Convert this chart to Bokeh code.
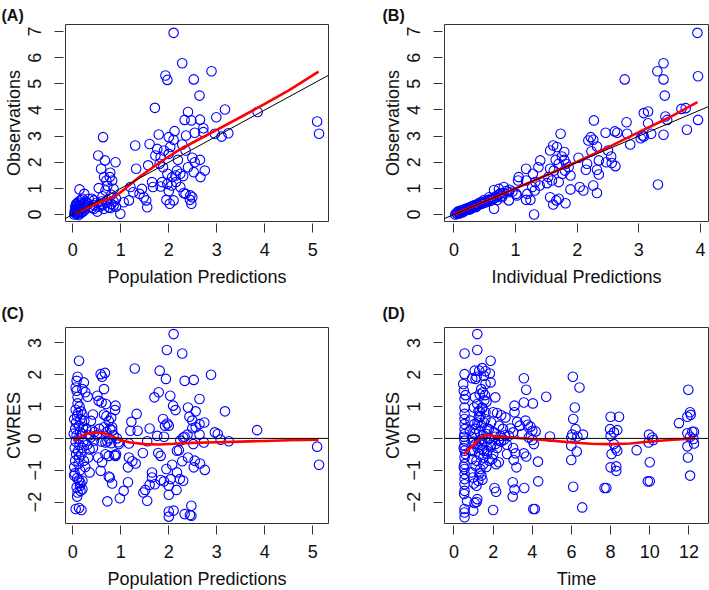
import math
from bokeh.plotting import figure
from bokeh.layouts import row, column
from bokeh.models import FixedTicker, Slope, Span, Title
from bokeh.embed import file_html
from bokeh.resources import INLINE

FONT = "Liberation Sans"

# ---------------- data ----------------
# Panel A: population predictions vs observations
a_points = [
    (2.10, 6.95), (2.28, 5.79), (1.93, 5.32), (1.97, 5.15), (2.89, 5.48), (2.52, 5.17), (2.64, 4.55),
    (1.71, 4.08), (3.17, 4.02), (3.85, 3.92), (2.99, 3.72), (2.40, 3.92), (2.33, 3.62), (2.47, 3.60),
    (2.65, 3.63), (5.09, 3.56), (5.13, 3.09), (3.24, 3.11), (3.10, 2.98), (2.96, 3.09), (2.72, 3.30),
    (2.72, 3.15), (2.54, 3.13), (2.36, 3.02), (2.12, 3.19), (1.79, 3.06), (0.63, 2.96), (2.00, 2.96),
    (2.10, 2.86), (1.30, 2.64), (1.60, 2.70), (2.28, 2.68), (2.35, 2.45), (2.03, 2.58), (1.90, 2.45),
    (1.76, 2.51), (2.00, 2.32), (1.83, 2.19), (1.72, 2.26), (2.49, 2.17), (2.65, 2.09), (2.54, 2.00),
    (2.19, 2.09), (0.53, 2.26), (0.67, 2.07), (0.89, 2.00), (1.32, 1.75), (1.57, 1.88), (1.81, 1.94),
    (1.88, 1.81), (2.40, 1.81), (0.59, 1.75), (2.75, 1.68), (2.52, 1.62), (2.17, 1.68), (2.24, 1.56),
    (2.14, 1.49), (2.30, 1.47), (1.97, 1.56), (2.07, 1.43), (2.66, 1.43), (0.65, 1.43), (0.77, 1.43),
    (0.70, 1.30), (0.82, 1.30), (0.78, 1.60), (1.65, 1.24), (1.86, 1.24), (1.97, 1.17), (2.15, 1.24),
    (2.06, 1.11), (1.83, 1.07), (2.24, 1.05), (1.67, 1.05), (0.54, 1.01), (0.68, 0.92), (0.85, 0.98),
    (1.20, 1.05), (1.26, 0.85), (1.39, 0.79), (1.44, 0.98), (2.00, 0.89), (2.31, 0.82), (0.14, 0.96),
    (2.35, 0.79), (2.45, 0.73), (2.49, 0.66), (2.44, 0.56), (2.47, 0.41), (1.95, 0.56), (2.02, 0.41),
    (2.10, 0.54), (1.53, 0.54), (1.55, 0.28), (1.06, 0.47), (1.17, 0.54), (0.99, 0.03), (1.48, 0.66),
    (0.24, 0.79), (0.33, 0.60), (0.44, 0.54), (0.58, 0.41), (0.75, 0.28), (0.85, 0.34), (0.44, 0.22),
    (0.65, 0.22), (0.51, 0.11), (0.72, 1.10), (0.80, 0.75), (0.90, 0.60), (0.62, 0.70),
    (0.03, 0.00), (0.05, 0.05), (0.06, 0.10), (0.08, 0.15), (0.10, 0.20), (0.12, 0.30), (0.09, 0.25),
    (0.15, 0.35), (0.07, 0.40), (0.10, 0.45), (0.13, 0.50), (0.17, 0.55), (0.20, 0.60), (0.05, 0.30),
    (0.11, 0.08), (0.14, 0.12), (0.18, 0.20), (0.20, 0.30), (0.22, 0.40), (0.25, 0.25), (0.28, 0.35),
    (0.30, 0.45), (0.08, 0.02), (0.12, -0.02), (0.16, 0.05), (0.20, 0.10), (0.24, 0.15), (0.27, 0.50),
    (0.33, 0.40), (0.36, 0.30), (0.40, 0.25), (0.40, 0.60), (0.45, 0.35), (0.50, 0.45), (0.55, 0.30),
    (0.60, 0.50), (0.62, 0.35), (0.70, 0.45), (0.72, 0.55), (0.78, 0.25), (0.80, 0.40), (0.85, 0.50),
    (0.90, 0.30), (0.06, 0.20), (0.09, 0.35), (0.13, 0.22), (0.16, 0.42), (0.04, 0.12), (0.18, 0.08),
]
a_loess_x = [0.05, 0.3, 0.5, 0.75, 0.9, 1.1, 1.4, 1.8, 2.2, 2.6, 3.0, 3.5, 4.0, 4.5, 5.12]
a_loess_y = [0.05, 0.26, 0.42, 0.60, 0.72, 1.00, 1.45, 1.98, 2.45, 2.85, 3.24, 3.73, 4.23, 4.75, 5.47]

# Panel B: individual predictions vs observations
b_points = [
    (3.95, 6.95), (3.96, 5.29), (3.30, 5.48), (2.77, 5.17), (3.40, 5.79), (3.40, 5.17), (3.42, 4.55),
    (3.96, 3.62), (3.78, 3.24), (3.69, 4.04), (3.76, 4.07), (3.15, 3.94), (3.08, 3.88), (3.43, 3.75),
    (3.46, 3.62), (3.15, 3.49), (2.80, 3.53), (3.20, 3.09), (3.40, 3.05), (3.06, 3.02), (3.03, 2.92),
    (2.86, 2.68), (3.08, 2.98), (2.27, 3.60), (2.61, 3.18), (2.65, 3.13), (2.46, 3.13), (2.81, 3.09),
    (3.31, 1.15), (2.22, 2.96), (2.18, 2.83), (2.26, 2.86), (2.32, 2.60), (2.23, 2.42), (2.50, 2.45),
    (2.55, 2.22), (2.47, 2.00), (2.62, 1.85), (2.56, 1.97), (2.35, 2.07), (2.16, 1.94), (2.14, 1.71),
    (2.32, 1.71), (2.35, 1.53), (2.26, 1.11), (2.32, 0.82), (2.10, 0.92), (2.04, 1.05), (2.02, 2.17),
    (1.86, 1.81), (1.89, 1.49), (1.80, 1.68), (1.82, 1.94), (1.73, 3.09), (1.61, 2.64), (1.67, 2.58),
    (1.56, 2.45), (1.79, 2.39), (1.75, 2.22), (1.79, 2.09), (1.65, 2.09), (1.70, 1.94), (1.56, 1.75),
    (1.62, 1.68), (1.76, 1.56), (1.53, 1.43), (1.59, 1.30), (1.70, 1.24), (1.51, 1.20), (1.40, 2.07),
    (1.37, 1.81), (1.17, 1.75), (1.28, 1.56), (1.17, 1.30), (1.32, 1.24), (1.39, 1.11), (1.27, 1.05),
    (1.31, 0.92), (1.19, 0.79), (1.24, 0.56), (1.17, 0.56), (1.30, 0.00), (1.56, 0.66), (1.61, 0.38),
    (1.66, 0.54), (1.70, 0.60), (1.81, 0.43), (1.89, 0.96), (1.05, 1.43), (1.04, 1.30), (1.01, 0.79),
    (1.02, 0.73), (0.89, 0.85), (0.81, 1.05), (0.73, 0.98), (0.65, 0.94), (0.69, 0.66), (0.65, 0.22),
    (0.89, 0.54), (0.78, 0.66), (0.57, 0.66), (0.48, 0.54), (0.43, 0.47),
    (0.02, 0.00), (0.05, 0.03), (0.08, 0.07), (0.10, 0.12), (0.12, 0.10), (0.15, 0.15), (0.18, 0.20),
    (0.20, 0.17), (0.22, 0.25), (0.25, 0.22), (0.28, 0.30), (0.30, 0.27), (0.33, 0.35), (0.35, 0.32),
    (0.38, 0.40), (0.40, 0.37), (0.42, 0.45), (0.45, 0.42), (0.50, 0.50), (0.52, 0.47), (0.55, 0.55),
    (0.60, 0.60), (0.62, 0.55), (0.06, 0.09), (0.09, 0.04), (0.14, 0.09), (0.17, 0.13), (0.24, 0.18),
    (0.27, 0.21), (0.32, 0.28), (0.36, 0.29), (0.04, 0.06), (0.07, 0.12), (0.11, 0.15), (0.16, 0.19),
    (0.21, 0.23), (0.26, 0.28), (0.31, 0.33), (0.37, 0.36), (0.44, 0.40), (0.48, 0.44), (0.58, 0.52),
    (0.65, 0.62), (0.68, 0.70), (0.72, 0.75), (0.75, 0.80), (0.80, 0.82), (0.85, 0.90), (0.70, 0.55),
    (0.90, 0.95), (0.95, 0.88), (0.78, 0.72),
]
b_loess_x = [0.0, 0.5, 1.0, 1.5, 2.0, 2.5, 3.0, 3.5, 3.95]
b_loess_y = [0.0, 0.5, 1.0, 1.5, 2.02, 2.57, 3.15, 3.72, 4.30]

# Panel C: population predictions vs CWRES
c_points = [
    (2.10, 3.28), (1.96, 2.78), (2.28, 2.67), (0.13, 2.44), (1.29, 2.20), (1.81, 2.13), (0.58, 2.02),
    (0.67, 2.06), (0.61, 1.94), (2.88, 2.00), (1.94, 1.87), (2.33, 1.81), (2.52, 1.84), (0.10, 1.94),
    (0.08, 1.81), (0.06, 1.60), (0.23, 1.76), (0.20, 1.55), (0.26, 1.45), (0.31, 1.31), (0.65, 1.55),
    (1.79, 1.45), (2.03, 1.34), (1.70, 1.29), (0.51, 1.34), (0.54, 1.18), (0.60, 1.13), (0.69, 1.08),
    (0.89, 1.03), (0.88, 0.89), (2.64, 1.24), (2.09, 1.03), (2.14, 0.89), (2.40, 0.97), (2.56, 0.85),
    (3.17, 0.85), (1.33, 0.77), (2.43, 0.68), (2.49, 0.56), (1.22, 0.52), (1.88, 0.61), (1.97, 0.47),
    (2.00, 0.40), (1.92, 0.40), (2.64, 0.45), (2.74, 0.50), (2.56, 0.35), (2.49, 0.32), (1.60, 0.31),
    (1.35, 0.24), (1.20, 0.24), (3.84, 0.26), (2.96, 0.19), (3.02, 0.14), (1.76, 0.08), (1.90, 0.05),
    (2.30, 0.03), (2.39, 0.12), (2.33, 0.05), (2.64, 0.12), (0.37, 0.03), (0.44, -0.07), (3.08, -0.04),
    (3.25, -0.09), (2.73, -0.13), (2.51, -0.18), (2.24, -0.07), (1.55, -0.09), (1.17, -0.16),
    (0.96, -0.18), (5.09, -0.26), (2.17, -0.39), (2.21, -0.37), (1.78, -0.46), (1.83, -0.55),
    (1.46, -0.46), (0.42, -0.30), (0.75, -0.55), (0.89, -0.55), (0.53, -0.60), (1.17, -0.60),
    (1.24, -0.72), (1.31, -0.79), (0.61, -0.75), (2.40, -0.60), (2.54, -0.70), (2.65, -0.79),
    (2.28, -0.72), (2.07, -0.83), (5.13, -0.83), (2.52, -0.91), (2.75, -0.99), (1.95, -0.96),
    (1.15, -0.91), (0.58, -1.02), (0.35, -1.07), (1.65, -1.07), (1.65, -1.23), (2.17, -1.07),
    (2.23, -1.28), (2.04, -1.28), (2.30, -1.33), (1.83, -1.31), (1.90, -1.35), (1.71, -1.44),
    (1.60, -1.46), (0.77, -1.23), (0.82, -1.42), (1.15, -1.38), (1.06, -1.65), (1.51, -1.62),
    (1.47, -1.70), (2.16, -1.62), (2.00, -1.49), (2.00, -1.77), (1.55, -1.96), (0.98, -1.88),
    (0.72, -1.98), (2.47, -2.12), (2.00, -2.30), (2.10, -2.27), (2.00, -2.46), (2.33, -2.38),
    (2.44, -2.41), (2.47, -2.43), (0.06, -2.22), (0.13, -2.19), (0.18, -2.25), (0.15, -1.49),
    (0.08, -1.54), (0.16, -1.65), (0.09, -1.83), (0.13, -1.31), (0.20, -1.33), (0.03, -1.17),
    (0.03, -0.90), (0.05, -0.70), (0.07, -0.50), (0.04, -0.30), (0.06, -0.10), (0.08, 0.10),
    (0.05, 0.30), (0.07, 0.50), (0.09, 0.70), (0.06, 0.90), (0.10, 1.10), (0.12, -0.80), (0.13, -0.60),
    (0.11, -0.40), (0.14, -0.20), (0.12, 0.00), (0.15, 0.20), (0.13, 0.40), (0.16, 0.60), (0.11, 0.80),
    (0.14, 1.00), (0.10, 1.30), (0.08, 1.50), (0.18, -0.50), (0.20, -0.30), (0.22, -0.10), (0.19, 0.15),
    (0.21, 0.35), (0.24, 0.55), (0.20, 0.75), (0.23, -0.70), (0.26, -0.90), (0.28, 0.30), (0.30, -0.20),
    (0.17, 0.85), (0.03, 0.60), (0.04, -1.10), (0.09, -1.25), (0.15, -1.00), (0.02, 0.15), (0.16, -1.40),
    (0.20, -1.60), (0.10, -1.70), (0.35, 0.10), (0.40, 0.25), (0.45, 0.20), (0.50, 0.10), (0.55, 0.30),
    (0.60, -0.10), (0.65, 0.35), (0.70, 0.20), (0.72, -0.10), (0.75, 0.00), (0.78, 0.30), (0.80, -0.15),
    (0.82, 0.25), (0.85, 0.10), (0.65, 0.75), (0.70, 0.70), (0.75, 0.55), (0.80, 0.65), (0.82, 0.35),
    (0.68, -0.50), (0.42, 0.75), (0.38, 0.55), (0.32, -0.60), (0.35, -0.35), (0.90, -0.50), (0.92, 0.00),
    (0.95, -0.12), (0.75, -1.20), (0.87, -0.52), (0.68, -0.13),
]
c_loess_x = [0.02, 0.15, 0.3, 0.47, 0.65, 0.8, 1.0, 1.2, 1.5, 1.8, 2.1, 2.5, 3.0, 3.5, 4.0, 4.5, 5.12]
c_loess_y = [-0.10, 0.05, 0.15, 0.19, 0.16, 0.08, -0.06, -0.13, -0.18, -0.19, -0.17, -0.14, -0.12,
             -0.10, -0.08, -0.06, -0.04]

# Panel D: time vs CWRES
d_points = [
    (1.19, 3.28), (1.19, 2.78), (0.54, 2.67), (0.54, 2.02), (1.87, 2.44), (1.44, 2.21), (1.29, 2.13),
    (1.06, 2.13), (1.61, 2.11), (1.83, 2.04), (1.53, 1.97), (1.15, 1.94), (0.93, 1.89), (1.10, 1.87),
    (1.87, 1.76), (1.61, 1.71), (1.39, 1.55), (1.48, 1.45), (1.58, 1.36), (1.31, 1.39), (2.11, 1.29),
    (1.66, 1.15), (0.59, 1.36), (0.54, 1.24), (1.07, 1.29), (1.19, 1.08), (1.02, 0.97), (1.44, 0.97),
    (1.31, 0.87), (1.61, 0.82), (2.00, 0.82), (2.20, 0.80), (2.41, 0.73), (2.63, 0.66), (3.09, 1.03),
    (3.09, 0.82), (3.57, 1.89), (3.69, 1.53), (3.57, 1.13), (4.03, 1.10), (4.71, 1.31), (4.90, 0.06),
    (3.23, 0.52), (3.36, 0.40), (3.65, 0.56), (3.77, 0.43), (3.91, 0.37), (4.00, 0.24), (4.17, 0.22),
    (2.88, 0.31), (3.02, 0.19), (2.80, 0.08), (2.55, -0.04), (3.48, 0.14), (3.82, 0.03), (4.00, -0.05),
    (4.08, -0.18), (3.02, -0.30), (3.14, -0.47), (3.57, -0.47), (3.69, -0.57), (2.71, -0.49),
    (3.05, -0.68), (3.19, -0.91), (4.29, -0.73), (3.00, -1.38), (3.09, -1.61), (3.00, -1.83),
    (3.59, -1.56), (4.30, -1.35), (4.05, -2.22), (4.13, -2.22), (2.07, -1.56), (2.15, -1.68),
    (2.00, -2.25), (2.15, -0.81), (2.29, -0.75), (1.95, -0.65), (1.69, -0.49), (1.53, -0.39),
    (1.87, -0.28), (2.12, -0.18), (2.29, -0.07), (2.38, 0.08), (2.04, 0.19), (1.78, 0.29), (1.53, 0.50),
    (1.66, 0.14), (1.44, -0.02), (1.44, -0.34), (1.49, -0.81), (1.35, -0.96), (1.40, -1.17),
    (1.24, -1.33), (1.15, -1.49), (1.19, -1.91), (1.05, -2.03), (0.98, -2.27), (1.15, -2.00),
    (0.67, -1.98), (0.88, -1.07), (0.97, -1.23), (1.02, -1.42), (1.10, -0.86), (0.93, -0.65),
    (0.59, -0.49), (0.85, -0.39), (1.10, -0.18), (1.29, -0.07), (0.93, 0.03), (0.81, 0.24), (1.05, 0.45),
    (1.27, 0.66), (0.84, 0.56),
    (0.54, 0.97), (0.54, 0.77), (0.54, 0.61), (0.54, 0.45), (0.54, 0.29), (0.54, 0.14), (0.54, -0.07),
    (0.54, -0.23), (0.54, -0.39), (0.54, -0.60), (0.54, -0.81), (0.54, -0.96), (0.54, -1.12),
    (0.54, -1.28), (0.54, -1.44), (0.54, -1.65), (0.54, -2.33), (0.54, -2.48), (0.54, -2.22),
    (0.47, 1.71), (0.50, 1.50), (0.52, -1.75), (0.50, -0.90), (0.52, 0.05), (0.50, -0.30),
    (6.07, 1.94), (6.41, 1.60), (6.17, 0.97), (6.09, 0.61), (6.21, 0.29), (6.04, 0.12), (5.99, 0.03),
    (6.30, 0.06), (6.59, 0.12), (5.99, -0.23), (6.27, -0.41), (5.99, -0.68), (6.09, -1.52),
    (6.55, -2.17), (8.00, 0.68), (8.43, 0.68), (7.97, 0.29), (8.34, 0.26), (8.17, 0.19), (8.00, 0.08),
    (8.17, -0.18), (8.25, -0.31), (8.05, -0.49), (8.34, -0.39), (8.00, -0.91), (8.29, -0.88),
    (8.29, -1.02), (7.69, -1.56), (7.78, -1.56), (9.33, -0.37), (9.96, 0.12), (10.13, 0.03),
    (10.18, -0.05), (9.94, -0.13), (10.00, -0.75), (9.90, -1.35), (10.00, -1.35), (11.49, 0.48),
    (11.97, 1.53), (12.06, 0.82), (11.92, 0.68), (12.09, 0.74), (11.92, 0.16), (12.17, 0.21),
    (12.26, 0.21), (12.06, 0.05), (12.23, -0.02), (12.26, -0.16), (11.92, -0.25), (11.95, -0.60),
    (12.06, -1.17),
    (1.10, 0.30), (1.20, 0.50), (1.30, 0.20), (1.40, 0.40), (1.50, 0.10), (1.60, -0.10), (1.70, 0.30),
    (1.80, 0.00), (1.90, -0.20), (1.20, -0.30), (1.30, -0.50), (1.40, -0.20), (1.50, -0.60), (1.60, 0.60),
    (1.70, -0.40), (1.80, -0.70), (1.25, 0.85), (1.35, 0.70), (1.45, 0.95), (1.55, 1.20), (1.00, -0.10),
    (1.05, 0.15), (0.95, -0.40), (1.15, -0.70), (1.30, -1.10), (1.45, -1.30), (1.65, -0.90), (1.90, 0.50),
    (2.00, -0.50), (2.10, 0.05), (2.20, -0.30), (2.30, 0.40), (2.40, -0.10), (2.50, 0.30), (2.60, 0.10),
    (2.70, -0.20),
]
d_loess_x = [0.5, 0.8, 1.0, 1.2, 1.45, 1.7, 2.0, 2.5, 3.0, 4.0, 5.0, 6.0, 7.0, 8.0, 9.0, 10.0, 11.0, 12.3]
d_loess_y = [-0.49, -0.32, -0.20, -0.08, 0.05, 0.11, 0.08, 0.04, 0.02, -0.02, -0.07, -0.13, -0.17,
             -0.18, -0.16, -0.10, -0.05, 0.00]

ticks_0_5 = [0, 1, 2, 3, 4, 5]
ticks_0_4 = [0, 1, 2, 3, 4]
ticks_obs = [0, 1, 2, 3, 4, 5, 6, 7]
ticks_cwres = [-2, -1, 0, 1, 2, 3]
ticks_time = [0, 2, 4, 6, 8, 10, 12]


# ---------------- layout helper ----------------
def make_panel(canvas, frame, xr, yr, xticks, yticks, xtitle, ytitle, tag,
               points, lx, ly, ref, tag_left, tag_standoff):
    cl, ct, cw, ch = canvas
    fl, ft, fw, fh = frame
    p = figure(frame_width=fw, frame_height=fh,
               min_border_left=fl - cl, min_border_top=ft - ct,
               min_border_right=cl + cw - (fl + fw), min_border_bottom=ct + ch - (ft + fh),
               x_range=xr, y_range=yr, output_backend="svg", toolbar_location=None)
    p.grid.visible = False
    p.outline_line_color = "#333333"
    p.outline_line_width = 1
    p.background_fill_color = "white"
    p.border_fill_color = "white"

    for ax, tk in ((p.xaxis[0], xticks), (p.yaxis[0], yticks)):
        ax.ticker = FixedTicker(ticks=tk)
        ax.axis_line_color = None
        ax.major_tick_out = 11
        ax.major_tick_in = -2
        ax.minor_tick_out = 0
        ax.minor_tick_in = 0
        ax.major_tick_line_color = "#333333"
        ax.major_tick_line_width = 1
        ax.major_label_text_font = FONT
        ax.major_label_text_font_size = "18px"
        ax.major_label_text_color = "#111111"
        ax.axis_label_text_font = FONT
        ax.axis_label_text_font_size = "18px"
        ax.axis_label_text_font_style = "normal"
        ax.axis_label_text_color = "#111111"
    p.xaxis[0].major_label_standoff = 10
    p.xaxis[0].axis_label = xtitle
    p.xaxis[0].axis_label_standoff = 8
    p.yaxis[0].major_label_orientation = "vertical"
    p.yaxis[0].major_label_standoff = 13
    p.yaxis[0].axis_label = ytitle
    p.yaxis[0].axis_label_standoff = 2

    xs = [pt[0] for pt in points]
    ys = [pt[1] for pt in points]
    p.scatter(xs, ys, marker="circle", size=9.5, fill_color=None, line_color="#0000ff",
              line_width=1.1)
    if ref == "identity":
        p.add_layout(Slope(gradient=1, y_intercept=0, line_color="black", line_width=1,
                           level="glyph"))
    else:
        p.add_layout(Span(location=0, dimension="width", line_color="black", line_width=1,
                          level="glyph"))
    p.line(lx, ly, line_color="#ff0000", line_width=2.6)

    p.add_layout(Title(text=tag, align="left", offset=tag_left - fl, standoff=tag_standoff,
                       text_font=FONT, text_font_size="16px", text_font_style="bold",
                       text_color="#111111"), "above")
    return p


pa = make_panel((0, 0, 360, 292), (65, 24, 263, 197), (-0.152, 5.327), (-0.268, 7.27),
                ticks_0_5, ticks_obs, "Population Predictions", "Observations", "(A)",
                a_points, a_loess_x, a_loess_y, "identity", 1, 1)
pb = make_panel((360, 0, 349, 292), (444, 24, 264, 197), (-0.154, 4.13), (-0.268, 7.27),
                ticks_0_4, ticks_obs, "Individual Predictions", "Observations", "(B)",
                b_points, b_loess_x, b_loess_y, "identity", 382, 1)
pc = make_panel((0, 292, 360, 298), (65, 327, 263, 196), (-0.152, 5.327), (-2.676, 3.487),
                ticks_0_5, ticks_cwres, "Population Predictions", "CWRES", "(C)",
                c_points, c_loess_x, c_loess_y, "zero", 1, 12)
pd_ = make_panel((360, 292, 349, 298), (444, 327, 264, 196), (-0.485, 13.0), (-2.676, 3.487),
                 ticks_time, ticks_cwres, "Time", "CWRES", "(D)",
                 d_points, d_loess_x, d_loess_y, "zero", 382, 12)

layout = column(row(pa, pb), row(pc, pd_))
open("out.html", "w").write(file_html(layout, INLINE))
